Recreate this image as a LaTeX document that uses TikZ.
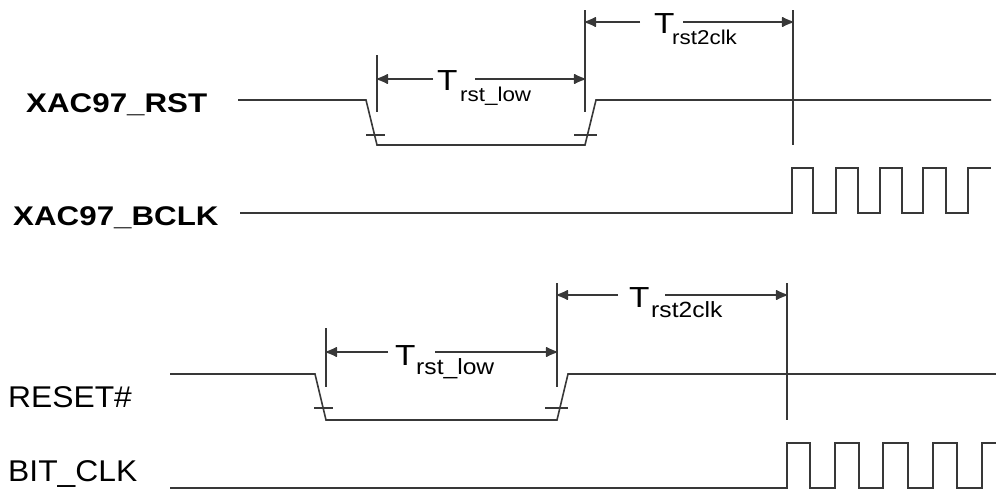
\documentclass[tikz,border=0pt]{standalone}
\usepackage{fontspec}
\setmainfont{Liberation Sans}
\usetikzlibrary{arrows.meta}
\definecolor{wire}{gray}{0.22}
\tikzset{
  sig/.style={draw=wire, line width=1.6pt, line join=miter},
  mark line/.style={draw=wire, line width=1.4pt},
  dim/.style={draw=wire, line width=1.4pt, -{Latex[length=13pt,width=11pt,round]}},
  boldlabel/.style={anchor=base west, inner sep=0pt, font=\fontsize{27}{27}\selectfont\bfseries, xscale=1.16, transform shape},
  plainlabel/.style={anchor=base west, inner sep=0pt, font=\fontsize{30}{30}\selectfont, xscale=1.06, transform shape},
  bigT/.style={anchor=base west, inner sep=0pt, font=\fontsize{29}{29}\selectfont, xscale=1.15, transform shape},
  subT/.style={anchor=base west, inner sep=0pt, font=\fontsize{20}{20}\selectfont, xscale=1.12, transform shape},
  subTb/.style={anchor=base west, inner sep=0pt, font=\fontsize{22}{22}\selectfont, xscale=1.12, transform shape}
}
\begin{document}
\begin{tikzpicture}[x=1pt, y=-1pt]
\useasboundingbox (0,0) rectangle (996,491);

% ---------------- top group ----------------
\node[boldlabel] (lrst) at (26,112) {XAC97\_RST};
\node[boldlabel] (lbclk) at (13,225) {XAC97\_BCLK};

% RST waveform
\draw[sig] (238,100) -- (366,100) -- (377,145) -- (585,145) -- (596,100) -- (991,100);
% edge ticks
\draw[mark line] (366,135) -- (385,135);
\draw[mark line] (574,135) -- (597,135);

% BCLK waveform
\draw[sig] (240,213) -- (792,213) -- (792,168) -- (813,168) -- (813,213)
  -- (836,213) -- (836,168) -- (858,168) -- (858,213)
  -- (880,213) -- (880,168) -- (902,168) -- (902,213)
  -- (923,213) -- (923,168) -- (946,168) -- (946,213)
  -- (968,213) -- (968,168) -- (991,168);

% vertical markers
\coordinate (a1t) at (377,55);  \coordinate (a1b) at (377,112);
\coordinate (a2t) at (585,10);  \coordinate (a2b) at (585,112);
\coordinate (a3t) at (793,10);  \coordinate (a3b) at (793,145);
\draw[mark line] (a1t) -- (a1b);
\draw[mark line] (a2t) -- (a2b);
\draw[mark line] (a3t) -- (a3b);

% T_rst_low (top)
\coordinate (d1L) at (377,79); \coordinate (d1R) at (585,79);
\coordinate (g1L) at (433,79); \coordinate (g1R) at (475,79);
\draw[dim] (g1L) -- (d1L);
\draw[dim] (g1R) -- (d1R);
\node[bigT] (t1) at (437,90) {T};
\node[subT] (s1) at (460,101) {rst\_low};

% T_rst2clk (top)
\coordinate (d2L) at (585,22); \coordinate (d2R) at (793,22);
\coordinate (g2L) at (640,22); \coordinate (g2R) at (683,22);
\draw[dim] (g2L) -- (d2L);
\draw[dim] (g2R) -- (d2R);
\node[bigT] (t2) at (654,33) {T};
\node[subT] (s2) at (672,44) {rst2clk};

% ---------------- bottom group ----------------
\node[plainlabel] (lreset) at (8,407) {RESET\#};
\node[plainlabel] (lbit) at (8,481) {BIT\_CLK};

% RESET# waveform
\draw[sig] (170,374) -- (315,374) -- (326,420) -- (557,420) -- (568,374) -- (996,374);
\draw[mark line] (314,408) -- (333,408);
\draw[mark line] (545,408) -- (568,408);

% BIT_CLK waveform
\draw[sig] (170,488) -- (787,488) -- (787,443) -- (810,443) -- (810,488)
  -- (835,488) -- (835,443) -- (859,443) -- (859,488)
  -- (883,488) -- (883,443) -- (908,443) -- (908,488)
  -- (933,488) -- (933,443) -- (957,443) -- (957,488)
  -- (982,488) -- (982,443) -- (996,443);

% vertical markers
\coordinate (b1t) at (326,328); \coordinate (b1b) at (326,387);
\coordinate (b2t) at (557,283); \coordinate (b2b) at (557,387);
\coordinate (b3t) at (787,283); \coordinate (b3b) at (787,420);
\draw[mark line] (b1t) -- (b1b);
\draw[mark line] (b2t) -- (b2b);
\draw[mark line] (b3t) -- (b3b);

% T_rst_low (bottom)
\coordinate (d3L) at (326,352); \coordinate (d3R) at (557,352);
\coordinate (g3L) at (388,352); \coordinate (g3R) at (435,352);
\draw[dim] (g3L) -- (d3L);
\draw[dim] (g3R) -- (d3R);
\node[bigT] (t3) at (395,365) {T};
\node[subTb] (s3) at (416,374) {rst\_low};

% T_rst2clk (bottom)
\coordinate (d4L) at (557,295); \coordinate (d4R) at (787,295);
\coordinate (g4L) at (618,295); \coordinate (g4R) at (665,295);
\draw[dim] (g4L) -- (d4L);
\draw[dim] (g4R) -- (d4R);
\node[bigT] (t4) at (629,307) {T};
\node[subTb] (s4) at (651,317) {rst2clk};
\end{tikzpicture}
\end{document}
